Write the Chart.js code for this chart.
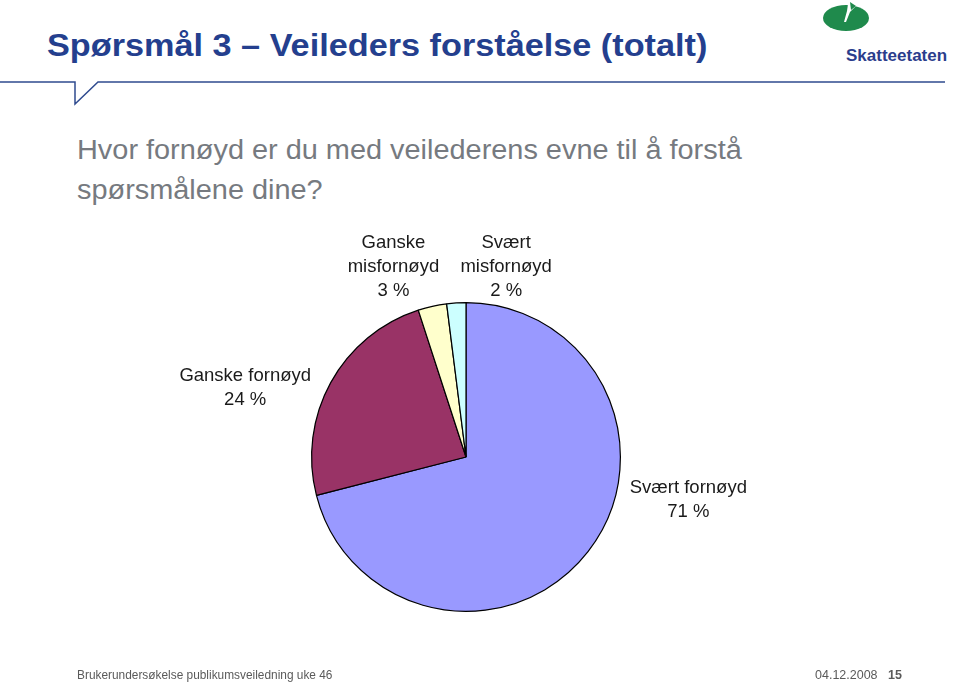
<!DOCTYPE html>
<html>
<head>
<meta charset="utf-8">
<script src="https://cdn.jsdelivr.net/npm/chart.js@4"></script>
<style>
  html, body { margin: 0; padding: 0; background: #fff; }
  #wrap { position: relative; width: 960px; height: 683px; overflow: hidden; font-family: "Liberation Sans", Arial, sans-serif; }
  #pie { position: absolute; left: 0; top: 0; }
  .title { position: absolute; left: 47px; top: 27px; font-size: 32px; font-weight: bold; color: #243f8e; white-space: nowrap; transform: scaleX(1.07); transform-origin: left top; }
  .question { position: absolute; left: 77px; top: 130px; font-size: 27px; line-height: 40px; color: #767a80; white-space: nowrap; transform: scaleX(1.07); transform-origin: left top; }
  .foot { position: absolute; top: 668px; font-size: 12.5px; color: #5a5a5a; white-space: nowrap; transform-origin: left top; }
  .logo { position: absolute; left: 820px; top: 0; }
</style>
</head>
<body>
<div id="wrap">
  <div class="title">Spørsmål 3 – Veileders forståelse (totalt)</div>
  <svg style="position:absolute;left:0;top:0" width="960" height="683">
    <polyline points="0,82 75,82 75,104 98,82 945,82" fill="none" stroke="#2f4b8f" stroke-width="1.5"/>
  </svg>
  <svg class="logo" width="140" height="70">
    <ellipse cx="26" cy="18" rx="23" ry="13" fill="#1f8a4c"/>
    <path d="M28 4 L38 4 L30 12 L26 22 L24 22 L27 11 Z" fill="#fff"/>
    <path d="M30 2 L36 6 L31 10 Z" fill="#1f8a4c"/>
    <text x="26" y="61" font-family="Liberation Sans Narrow, Arial" font-weight="bold" font-size="17" fill="#2b3d8c">Skatteetaten</text>
  </svg>
  <div class="question">Hvor fornøyd er du med veilederens evne til å forstå<br>spørsmålene dine?</div>
  <canvas id="pie" width="960" height="683"></canvas>
  <div class="foot" style="left:77px;transform:scaleX(0.95)">Brukerundersøkelse publikumsveiledning uke 46</div>
  <div class="foot" style="left:815px">04.12.2008</div>
  <div class="foot" style="left:888px;font-weight:bold">15</div>
</div>
<script>
const categories = ['Svært fornøyd', 'Ganske fornøyd', 'Ganske misfornøyd', 'Svært misfornøyd'];
const labelLines = [['Svært fornøyd'], ['Ganske fornøyd'], ['Ganske', 'misfornøyd'], ['Svært', 'misfornøyd']];
const shares = [71, 24, 3, 2];
const colors = ['#9999ff', '#993366', '#ffffcc', '#ccffff'];
// label anchors in radius units from the pie centre
const labelAnchors = [[1.44, 0.28], [-1.43, -0.45], [-0.47, -1.23], [0.26, -1.23]];

const pieLabels = {
  id: 'pieLabels',
  afterDraw(chart) {
    const { ctx } = chart;
    const arcs = chart.getDatasetMeta(0).data;
    ctx.save();
    ctx.font = '18.5px "Liberation Sans", Arial, sans-serif';
    ctx.fillStyle = '#1a1a1a';
    ctx.textAlign = 'center';
    ctx.textBaseline = 'middle';
    arcs.forEach((arc, i) => {
      const r = arc.outerRadius;
      const cx = arc.x + labelAnchors[i][0] * r;
      const cy = arc.y + labelAnchors[i][1] * r;
      const lines = labelLines[i].concat([shares[i] + ' %']);
      const lh = 24;
      const y0 = cy - (lines.length - 1) * lh / 2;
      lines.forEach((t, k) => ctx.fillText(t, cx, y0 + k * lh));
    });
    ctx.restore();
  }
};

new Chart(document.getElementById('pie'), {
  type: 'pie',
  plugins: [pieLabels],
  data: {
    labels: categories,
    datasets: [{
      data: shares,
      backgroundColor: colors,
      borderColor: '#000',
      borderWidth: 1.2
    }]
  },
  options: {
    responsive: false,
    animation: false,
    layout: { padding: { left: 311, right: 339, top: 302, bottom: 71 } },
    plugins: { legend: { display: false }, tooltip: { enabled: false } }
  }
});
</script>
</body>
</html>
